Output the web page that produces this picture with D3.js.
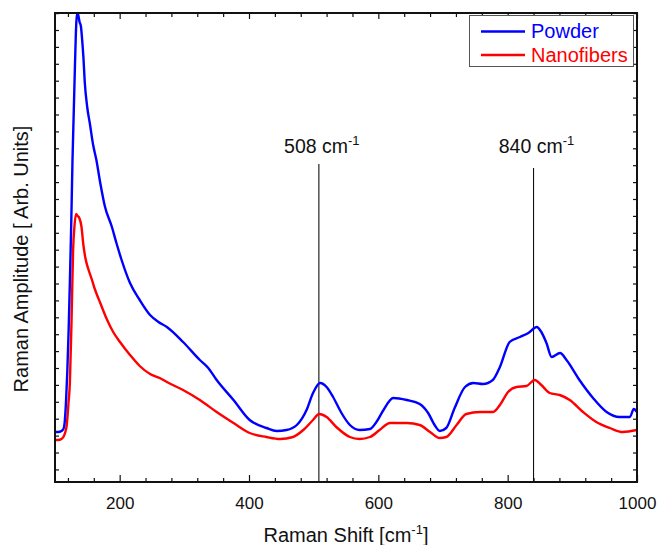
<!DOCTYPE html>
<html><head><meta charset="utf-8">
<script src="https://cdn.jsdelivr.net/npm/d3@7"></script>
<style>body{margin:0;background:#fff}svg{display:block}text{font-family:"Liberation Sans",Arial,sans-serif}</style>
</head><body><svg id="c" width="659" height="545"></svg>
<script>
const seriesNames = ["Powder", "Nanofibers"];
const seriesColors = ["#0000ff", "#ff0000"];
const powderShift = [100,105,110,113,115,117,119,121,123,125,127,129,131,133,134.5,136,138,140,142,144,146,150,154,159,164,170,177,188,195,203,216,231,247,260,273,298,324,337,350,376,401,427,443,458,474,489,499,510,520,530,543,556,571,587,597,608,623,644,664,677,687,695,705,718,734,747,762,777,788,803,819,832,845,852,860,868,881,891,911,932,953,973,989,995,1000];
const powderAmp   = [50,50,51,53,60,80,110,150,200,255,320,370,420,460,469,467,460,456,442,424,400,374,358,337,322,299,276,255,239,222,199,182,167,160,155,140,122,114,102,82,62,54,51,52,57,72,89,99,95,85,69,57,52,53,60,72,84,82,78,69,57,51,54,74,95,99,98,102,115,140,145,149,155,150,139,125,129,122,102,84,70,65,65,73,70];
const fiberShift  = [100,105,110,113,116,118,121,123,125.7,128,130,132.5,135,137.6,141,143.7,147,151.5,156.7,161,165,170,180,190,200.5,216,231,247,262,273,298,324,350,376,401,427,448,468,484,499,508.5,520,535,556,571,587,602,618,644,664,680,695,705,721,736,757,770,777.5,788,800.6,813.6,829,842,852,865,880.5,896,916.5,937,958,978,1000];
const fiberAmp    = [42,42,43,45,50,56,80,99,165,232,255,268,266,264,255,238,224,213,203,194,187,179,163,150,140,127,116,108,104,100,92,82,70,59,49,45,43,45,52,62,68,65,55,45,43,45,52,59,59,57,50,44,45,57,68,70,70,70,77,90,95,96,102,97,89,87,82,70,60,54,50,52];
const markerShift = [508, 840];
const markerTop   = [318, 314];
const xTicksMajor = [200, 400, 600, 800, 1000];
const xDomain = [100, 1000];
const yDomain = [0, 469];

const svg = d3.select("#c");
const m = {l:55, r:22, t:13, b:63};
const W = 659 - m.l - m.r, H = 545 - m.t - m.b;
const x = d3.scaleLinear().domain(xDomain).range([m.l, m.l + W]);
const y = d3.scaleLinear().domain(yDomain).range([m.t + H, m.t]);

svg.append("clipPath").attr("id","pc").append("rect")
  .attr("x", m.l).attr("y", m.t - 2).attr("width", W).attr("height", H + 2);

// marker lines
markerShift.forEach((s, i) => {
  svg.append("line").attr("x1", x(s)).attr("x2", x(s))
    .attr("y1", y(markerTop[i])).attr("y2", y(0))
    .attr("stroke", i === 0 ? "#444" : "#111").attr("stroke-width", i === 0 ? 1.4 : 1.1);
  const t = svg.append("text").attr("x", x(s) + 3).attr("y", 153)
    .attr("text-anchor", "middle").attr("font-size", 19.5).attr("fill", "#111");
  t.append("tspan").text(s + " cm");
  t.append("tspan").attr("font-size", 13).attr("dy", -8).text("-1");
});

// series
const line = d3.line().x(d => x(d[0])).y(d => y(d[1])).curve(d3.curveMonotoneX);
const data = [
  d3.zip(powderShift, powderAmp),
  d3.zip(fiberShift, fiberAmp)
];
[1, 0].forEach(i => {
  svg.append("path").datum(data[i]).attr("d", line)
    .attr("fill", "none").attr("stroke", seriesColors[i]).attr("stroke-width", 2.4)
    .attr("stroke-linejoin", "round").attr("clip-path", "url(#pc)");
});

// axes
const xTicksAll = d3.range(120, 1001, 40);
const yStep = 16.9;
const yTicksAll = d3.range(12.6, 469, yStep);
const axB = d3.axisBottom(x).tickValues(xTicksAll).tickSizeInner(-4).tickSizeOuter(0)
  .tickFormat(d => xTicksMajor.includes(d) ? d : "");
const gB = svg.append("g").attr("transform", `translate(0,${m.t + H})`).call(axB);
gB.selectAll(".tick line").attr("y2", d => xTicksMajor.includes(d) ? -7 : -4);
gB.selectAll(".tick text").attr("font-size", 17).attr("dy", "1.05em").attr("fill","#111")
  .attr("font-family", '"Liberation Sans",Arial,sans-serif').attr("y", 9);
const axT = d3.axisTop(x).tickValues(xTicksAll).tickSizeInner(-4).tickSizeOuter(0).tickFormat("");
const gT = svg.append("g").attr("transform", `translate(0,${m.t})`).call(axT);
gT.selectAll(".tick line").attr("y2", d => xTicksMajor.includes(d) ? 6 : 4);
const axL = d3.axisLeft(y).tickValues(yTicksAll).tickSizeInner(-4).tickSizeOuter(0).tickFormat("");
svg.append("g").attr("transform", `translate(${m.l},0)`).call(axL);
const axR = d3.axisRight(y).tickValues(yTicksAll).tickSizeInner(-4).tickSizeOuter(0).tickFormat("");
svg.append("g").attr("transform", `translate(${m.l + W},0)`).call(axR);
svg.selectAll(".domain").remove();
svg.selectAll(".tick line").attr("stroke", "#111").attr("stroke-width", 1.2);

svg.append("rect").attr("x", m.l).attr("y", m.t).attr("width", W).attr("height", H)
  .attr("fill", "none").attr("stroke", "#111").attr("stroke-width", 2);

// axis titles
const xt = svg.append("text").attr("x", 346).attr("y", 542).attr("text-anchor", "middle")
  .attr("font-size", 20).attr("fill", "#111");
xt.append("tspan").text("Raman Shift [cm");
xt.append("tspan").attr("font-size", 13).attr("dy", -8).text("-1");
xt.append("tspan").attr("dy", 8).text("]");
svg.append("text").attr("transform", "translate(28,259) rotate(-90)").attr("text-anchor", "middle")
  .attr("font-size", 20).attr("fill", "#111").text("Raman Amplitude [ Arb. Units]");

// legend
const lg = svg.append("g");
lg.append("rect").attr("x", 469.5).attr("y", 15.5).attr("width", 164).attr("height", 51)
  .attr("fill", "#fff").attr("stroke", "#555").attr("stroke-width", 1);
seriesNames.forEach((n, i) => {
  const yy = 31.5 + i * 23.5;
  lg.append("line").attr("x1", 481).attr("x2", 525).attr("y1", yy).attr("y2", yy)
    .attr("stroke", seriesColors[i]).attr("stroke-width", 2.4);
  lg.append("text").attr("x", 531).attr("y", yy + 6.5).attr("font-size", 20)
    .attr("fill", seriesColors[i]).text(n);
});
</script></body></html>
